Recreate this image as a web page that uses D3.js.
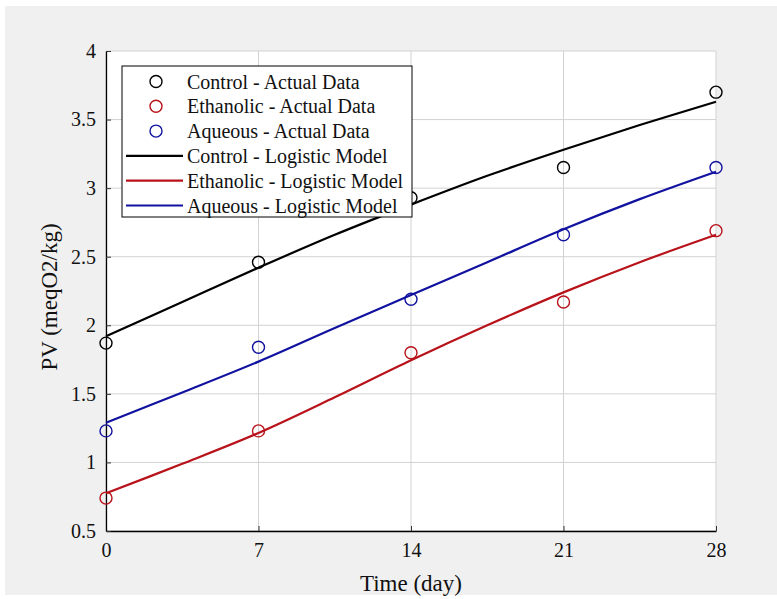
<!DOCTYPE html>
<html>
<head>
<meta charset="utf-8">
<script src="https://cdn.jsdelivr.net/npm/d3@7"></script>
<style>
  html, body { margin: 0; padding: 0; background: #ffffff; }
  svg { display: block; }
</style>
</head>
<body>
<script>
// actual data, sampled weekly
const days = [0, 7, 14, 21, 28];
const controlData = [1.87, 2.46, 2.93, 3.15, 3.70];
const ethanolicData = [0.74, 1.23, 1.80, 2.17, 2.69];
const aqueousData = [1.23, 1.84, 2.19, 2.66, 3.15];

// logistic model curves
const modelDays = [0, 3.5, 7, 10.5, 14, 17.5, 21, 24.5, 28];
const controlModel = [1.92, 2.17, 2.42, 2.66, 2.88, 3.09, 3.28, 3.46, 3.63];
const ethanolicModel = [0.775, 0.99, 1.215, 1.475, 1.745, 2.0, 2.24, 2.46, 2.66];
const aqueousModel = [1.29, 1.51, 1.735, 1.98, 2.22, 2.46, 2.70, 2.92, 3.12];

const yTicks = [0.5, 1, 1.5, 2, 2.5, 3, 3.5, 4];

const seriesNames = ['Control', 'Ethanolic', 'Aqueous'];
const seriesColors = ['#000000', '#b8121a', '#1212a0'];

const svgWidth = 777;
const svgHeight = 599;
const margin = { top: 51, right: 61, bottom: 68, left: 106 };
const width = svgWidth - margin.left - margin.right;
const height = svgHeight - margin.top - margin.bottom;
const font = '"Liberation Serif", "Times New Roman", serif';

const root = d3.select('body')
    .append('svg')
    .attr('width', svgWidth)
    .attr('height', svgHeight);

root.append('rect')
    .attr('x', 5).attr('y', 6)
    .attr('width', svgWidth - 5).attr('height', 589)
    .attr('fill', '#f0f0f0');

const svg = root.append('g')
    .attr('transform', `translate(${margin.left}, ${margin.top})`);

svg.append('rect')
    .attr('width', width).attr('height', height)
    .attr('fill', '#ffffff');

const x = d3.scaleLinear().domain([0, 28]).range([0, width]);
const y = d3.scaleLinear().domain([0.5, 4]).range([height, 0]);

// grid
svg.append('g')
    .selectAll('line.vg')
    .data(days)
    .enter()
    .append('line')
    .attr('x1', d => x(d)).attr('x2', d => x(d))
    .attr('y1', 0).attr('y2', height)
    .attr('stroke', '#d2d2d2').attr('stroke-width', 1);

svg.append('g')
    .selectAll('line.hg')
    .data(yTicks)
    .enter()
    .append('line')
    .attr('x1', 0).attr('x2', width)
    .attr('y1', d => y(d)).attr('y2', d => y(d))
    .attr('stroke', '#d2d2d2').attr('stroke-width', 1);

// axes, ticks pointing inward
const xAxis = svg.append('g')
    .attr('transform', `translate(0, ${height})`)
    .call(d3.axisBottom(x).tickValues(days).tickSizeInner(-5).tickSizeOuter(0).tickPadding(12));

const yAxis = svg.append('g')
    .call(d3.axisLeft(y).tickValues(yTicks).tickFormat(d => String(d)).tickSizeInner(-5).tickSizeOuter(0).tickPadding(10));

[xAxis, yAxis].forEach(a => {
    a.select('.domain').attr('stroke', '#000').attr('stroke-width', 1.3);
    a.selectAll('.tick line').attr('stroke', '#333');
    a.selectAll('text')
        .style('font-family', font)
        .style('font-size', '20px')
        .attr('fill', '#111');
});

// labels
root.append('text')
    .attr('x', margin.left + width / 2)
    .attr('y', 591)
    .attr('text-anchor', 'middle')
    .style('font-family', font)
    .style('font-size', '23px')
    .attr('fill', '#111')
    .text('Time (day)');

root.append('text')
    .attr('transform', `translate(57, ${margin.top + height / 2 + 6}) rotate(-90)`)
    .attr('text-anchor', 'middle')
    .style('font-family', font)
    .style('font-size', '23px')
    .attr('fill', '#111')
    .text('PV (meqO2/kg)');

// model lines
const models = [controlModel, ethanolicModel, aqueousModel];
const line = d3.line()
    .x(d => x(d[0]))
    .y(d => y(d[1]))
    .curve(d3.curveCatmullRom.alpha(0.5));

models.forEach((m, i) => {
    svg.append('path')
        .datum(modelDays.map((d, j) => [d, m[j]]))
        .attr('d', line)
        .attr('fill', 'none')
        .attr('stroke', seriesColors[i])
        .attr('stroke-width', 2.2);
});

// data markers
const actual = [controlData, ethanolicData, aqueousData];
actual.forEach((s, i) => {
    svg.append('g')
        .selectAll('circle')
        .data(days.map((d, j) => [d, s[j]]))
        .enter()
        .append('circle')
        .attr('cx', d => x(d[0]))
        .attr('cy', d => y(d[1]))
        .attr('r', 6)
        .attr('fill', 'none')
        .attr('stroke', seriesColors[i])
        .attr('stroke-width', 1.4);
});

// legend
const legend = root.append('g').attr('transform', 'translate(122, 66)');
legend.append('rect')
    .attr('width', 290).attr('height', 151)
    .attr('fill', '#ffffff')
    .attr('stroke', '#000').attr('stroke-width', 1);

const legendItems = [];
seriesNames.forEach((n, i) => legendItems.push({ label: `${n} - Actual Data`, color: seriesColors[i], type: 'marker' }));
seriesNames.forEach((n, i) => legendItems.push({ label: `${n} - Logistic Model`, color: seriesColors[i], type: 'line' }));

legendItems.forEach((d, i) => {
    const g = legend.append('g').attr('transform', `translate(0, ${15.5 + i * 24.8})`);
    if (d.type === 'marker') {
        g.append('circle')
            .attr('cx', 34).attr('cy', 0).attr('r', 6)
            .attr('fill', 'none')
            .attr('stroke', d.color).attr('stroke-width', 1.4);
    } else {
        g.append('line')
            .attr('x1', 4).attr('x2', 61)
            .attr('y1', 0).attr('y2', 0)
            .attr('stroke', d.color).attr('stroke-width', 2.2);
    }
    g.append('text')
        .attr('x', 65).attr('y', 0)
        .attr('dy', '0.35em')
        .style('font-family', font)
        .style('font-size', '20px')
        .attr('fill', '#111')
        .text(d.label);
});
</script>
</body>
</html>
